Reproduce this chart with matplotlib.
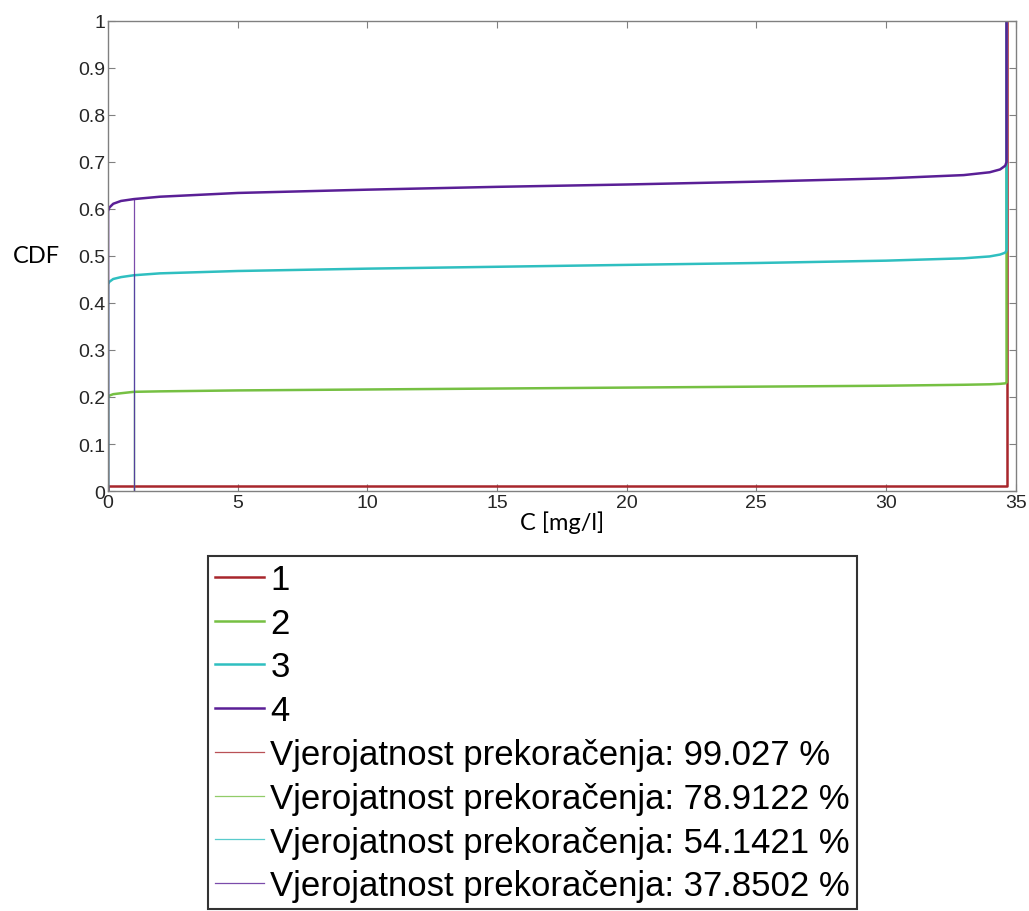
import matplotlib
matplotlib.use("Agg")
import matplotlib.pyplot as plt

# koncentracija [mg/l] - zajednicka x os za sve krivulje
c_x = [0, 0, 0.05, 0.2, 0.5, 1, 2, 5, 10, 15, 20, 25, 30, 33, 34, 34.4, 34.6, 34.65, 34.65]

cdf_1 = [0, 0.0097, 0.0097, 0.0097, 0.0097, 0.0097, 0.0097, 0.0097, 0.0097, 0.0097,
         0.0097, 0.0097, 0.0097, 0.0097, 0.0097, 0.0097, 0.0097, 0.0097, 1.0]
cdf_2 = [0, 0.200, 0.203, 0.206, 0.208, 0.211, 0.212, 0.214, 0.216, 0.218,
         0.220, 0.222, 0.224, 0.226, 0.227, 0.228, 0.229, 0.231, 1.0]
cdf_3 = [0, 0.440, 0.445, 0.451, 0.455, 0.459, 0.463, 0.468, 0.473, 0.477,
         0.481, 0.485, 0.490, 0.495, 0.499, 0.503, 0.507, 0.512, 1.0]
cdf_4 = [0, 0.595, 0.603, 0.611, 0.617, 0.621, 0.626, 0.634, 0.641, 0.647,
         0.652, 0.658, 0.665, 0.672, 0.678, 0.684, 0.692, 0.700, 1.0]

labels = ['1', '2', '3', '4']
colors = ['#a8262c', '#76c043', '#2fbfc0', '#5a1f96']

# granicna koncentracija i vjerojatnosti prekoracenja [%]
c_lim = 1.0
prekoracenje = [99.027, 78.9122, 54.1421, 37.8502]

plt.rcParams['font.family'] = ['Liberation Sans', 'DejaVu Sans']

fig = plt.figure(figsize=(10.29, 9.12), dpi=100)
ax = fig.add_axes([0.105, 0.4605, 0.882, 0.5155])

for y, c, lab in zip([cdf_1, cdf_2, cdf_3, cdf_4], colors, labels):
    ax.plot(c_x, y, color=c, lw=1.8, label=lab)

for p, c in zip(prekoracenje, colors):
    ax.plot([c_lim, c_lim], [0, 1 - p / 100], color=c, lw=0.9, alpha=0.8,
            label='Vjerojatnost prekoračenja: ' + str(p) + ' %')

ax.set_xlim(0, 35)
ax.set_ylim(0, 1)
ax.set_xticks(range(0, 36, 5))
ax.set_yticks([i / 10 for i in range(11)])
ax.set_yticklabels(['0'] + ['%.1f' % (i / 10) for i in range(1, 10)] + ['1'])
ax.tick_params(direction='in', length=5, width=0.8, color='#808080',
               top=True, right=True, labelsize=14, pad=2, labelcolor='#262626')
for s in ax.spines.values():
    s.set_color('#808080')
    s.set_linewidth(1.0)

ax.set_xlabel('C [mg/l]', family=['Lato', 'DejaVu Sans'], fontsize=17, labelpad=0)
ax.set_ylabel('CDF', family=['Lato', 'DejaVu Sans'], fontsize=17, rotation=0,
              labelpad=30, va='center')

leg = fig.legend(loc='upper left', bbox_to_anchor=(208 / 1029, 1 - 557 / 912),
                 fontsize=25, frameon=True, fancybox=False, borderpad=0.2,
                 labelspacing=0.31, handlelength=1.4, handletextpad=0.2,
                 borderaxespad=0)
leg.get_frame().set_edgecolor('black')
leg.get_frame().set_linewidth(1.5)

fig.savefig('out.png', dpi=100)
